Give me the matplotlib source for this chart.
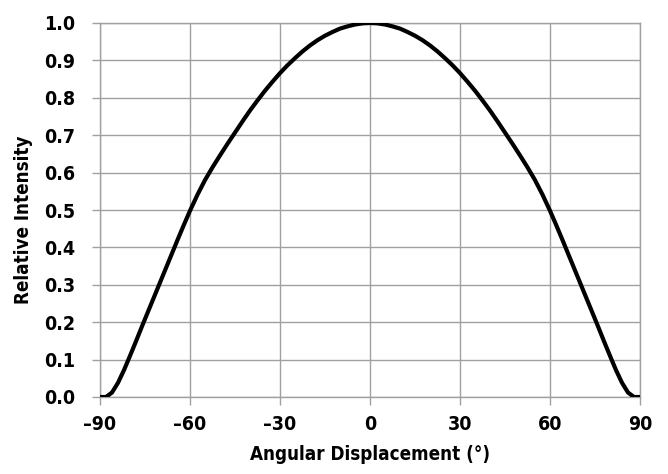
import numpy as np
import matplotlib
matplotlib.use('Agg')
import matplotlib.pyplot as plt
from matplotlib.ticker import FuncFormatter

plt.rcParams['font.family'] = ['DejaVu Sans']
plt.rcParams['font.stretch'] = 'condensed'
plt.rcParams['font.weight'] = 'bold'

# Значения (левая половина, правая симметрична)
angle_left = [-90, -88, -86, -84, -82, -80, -78, -76, -74, -72, -70, -68, -66, -64, -62,
              -60, -57.5, -55, -52.5, -50, -47.5, -45, -42.5, -40, -37.5, -35, -32.5,
              -30, -27.5, -25, -22.5, -20, -17.5, -15, -12.5, -10, -7.5, -5, -2.5]
intensity_left = [0.0, 0.0, 0.012, 0.038, 0.072, 0.11, 0.149, 0.189, 0.228, 0.267, 0.306, 0.345, 0.384, 0.423, 0.461,
                  0.498, 0.541, 0.580, 0.614, 0.646, 0.677, 0.707, 0.737, 0.766, 0.793, 0.819, 0.843,
                  0.866, 0.887, 0.906, 0.924, 0.940, 0.954, 0.966, 0.976, 0.985, 0.991, 0.996, 0.999]
angle_mid = [0]
intensity_mid = [1.0]

angles = np.array(angle_left + angle_mid + [-a for a in angle_left[::-1]])
intensity = np.array(intensity_left + intensity_mid + intensity_left[::-1])

xticks = [-90, -60, -30, 0, 30, 60, 90]
yticks = [0.0, 0.1, 0.2, 0.3, 0.4, 0.5, 0.6, 0.7, 0.8, 0.9, 1.0]

fig = plt.figure(figsize=(6.68, 4.74), dpi=100)
ax = fig.add_axes([100 / 668, 1 - 397 / 474, 540 / 668, 374 / 474])

ax.plot(angles, intensity, color='black', linewidth=3, solid_capstyle='round',
        solid_joinstyle='round', zorder=3)

ax.set_xlim(-90, 90)
ax.set_ylim(0, 1)
ax.set_xticks(xticks)
ax.set_yticks(yticks)
ax.xaxis.set_major_formatter(FuncFormatter(lambda v, p: ('–%d' % -v) if v < 0 else '%d' % v))
ax.yaxis.set_major_formatter(FuncFormatter(lambda v, p: '%.1f' % v))
ax.grid(True, color='#a0a0a0', linewidth=1)
for s in ax.spines.values():
    s.set_color('#a0a0a0')
    s.set_linewidth(1)
ax.tick_params(axis='both', colors='#a0a0a0', length=6, width=1, labelcolor='black', labelsize=14)
ax.tick_params(axis='y', pad=12)
ax.tick_params(axis='x', pad=7)
for lab in ax.get_xticklabels() + ax.get_yticklabels():
    lab.set_fontweight('bold')

ax.set_xlabel('Angular Displacement (°)', fontsize=13.5, fontweight='bold', labelpad=8)
ax.set_ylabel('Relative Intensity', fontsize=13.5, fontweight='bold')
ax.yaxis.set_label_coords(-67 / 540, 0.473)

fig.savefig('out.png', dpi=100)
